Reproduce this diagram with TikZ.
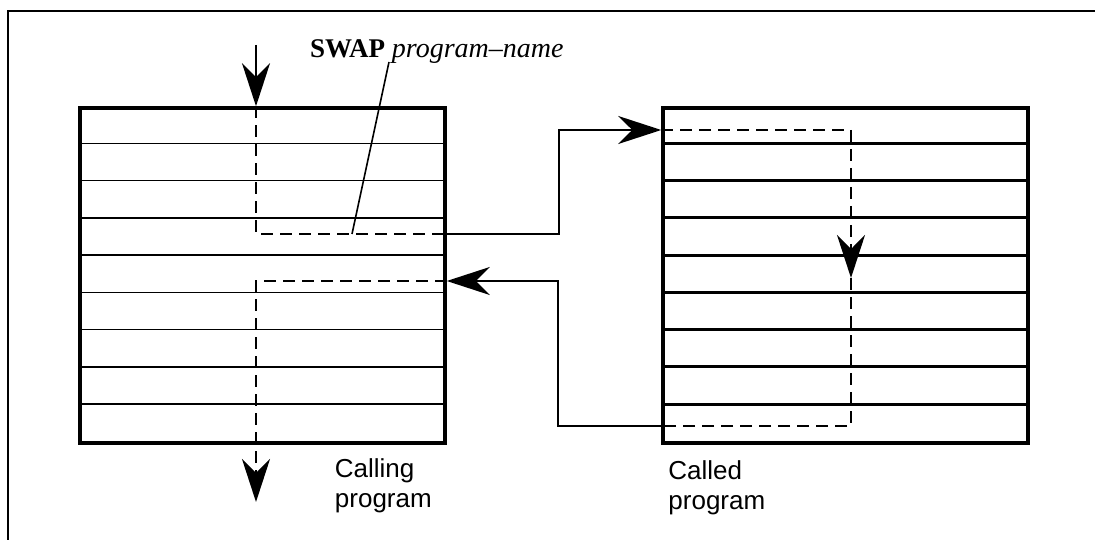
\documentclass[tikz,border=0pt]{standalone}
\usepackage{fontspec}
\setmainfont{Liberation Serif}
\setsansfont{Liberation Sans}
\usetikzlibrary{arrows.meta,positioning}
\tikzstyle{prog} = [draw=black, line width=3.5pt, rectangle,
    minimum width=365pt, minimum height=335pt, inner sep=0pt]
\tikzstyle{thinrow} = [line width=1.6pt]
\tikzstyle{thickrow} = [line width=3pt]
\tikzstyle{link} = [line width=1.6pt]
\tikzstyle{trace} = [line width=2pt, dash pattern=on 12pt off 7pt]
\tikzstyle{caption} = [font=\sffamily\fontsize{26}{30}\selectfont,
    align=left, inner sep=0pt]

\begin{document}
\begin{tikzpicture}[x=1pt, y=-1pt,
    >={Stealth[length=43pt, width=28pt, inset=14pt]}]
\useasboundingbox (0,0) rectangle (1095,540);
\draw[line width=1.8pt] (8,545) |- (1100,11);

% the two programs
\node[prog] (calling) at (262.5,275.5) {};
\node[prog] (called) at (845.5,275.5) {};
\foreach \i in {1,...,8} {
    \draw[thinrow] ([yshift=-\i*37.22pt]calling.north west) -- ([yshift=-\i*37.22pt]calling.north east);
    \draw[thickrow] ([yshift=-\i*37.22pt]called.north west) -- ([yshift=-\i*37.22pt]called.north east);
}

% path of control
\coordinate (start) at (256,45);
\coordinate (callpt) at (256,234);
\coordinate (retpt) at (256,281);
\coordinate (exit) at (256,502);
\coordinate (jump) at (851,130);
\coordinate (midpt) at (851,278);
\coordinate (back) at (851,426);

\draw[link,->] (start) -- (start |- calling.north);
\draw[trace] (start |- calling.north) -- (callpt) -- (callpt -| calling.east);
\draw[link,->] (callpt -| calling.east) -- ++(112,0) |- (jump -| called.west);
\draw[trace] (jump -| called.west) -- (jump);
\draw[trace,->] (jump) -- (midpt);
\draw[trace] (midpt) -- (back) -- (back -| called.west);
\draw[link,->] (back -| called.west) -- ++(-103,0) |- (retpt -| calling.east);
\draw[trace,->] (retpt -| calling.east) -- (retpt) -- (exit);

% labels
\node[anchor=base west, inner sep=0pt] (swaplbl) at (310,58)
    {\fontsize{27}{32}\selectfont\bfseries SWAP \fontsize{28}{32}\selectfont\mdseries\itshape program--name};
\draw[link] ([xshift=79pt,yshift=-4pt]swaplbl.base west) -- ([xshift=96pt]callpt);

\node[caption, anchor=north west] (callinglbl) at ([xshift=-112pt,yshift=-14pt]calling.south east) {Calling\\program};
\node[caption, anchor=north west] (calledlbl) at ([xshift=7pt,yshift=-16pt]called.south west) {Called\\program};
\end{tikzpicture}
\end{document}
